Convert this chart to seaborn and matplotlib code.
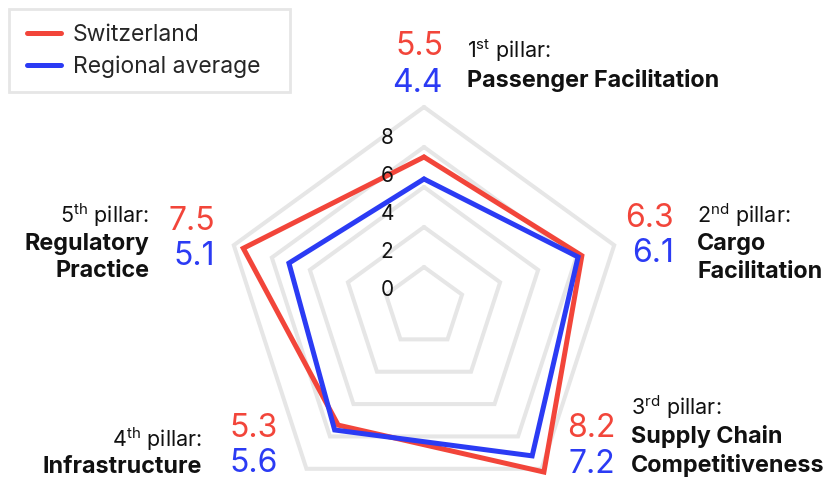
import numpy as np
import pandas as pd
import matplotlib
matplotlib.use("Agg")
import matplotlib.pyplot as plt
from matplotlib.patches import Rectangle
import seaborn as sns

# --- Data ---
pillars = ["1st", "2nd", "3rd", "4th", "5th"]
pillar_names = ["Passenger Facilitation", "Cargo\nFacilitation",
                "Supply Chain\nCompetitiveness", "Infrastructure",
                "Regulatory\nPractice"]
switzerland = [5.5, 6.3, 8.2, 5.3, 7.5]
regional_avg = [4.4, 6.1, 7.2, 5.6, 5.1]
series_names = ["Switzerland", "Regional average"]
ring_values = [0, 2, 4, 6, 8]

RED = "#f2453a"
BLUE = "#2b3bf4"
GRID = "#e6e6e6"

sns.set_style("white")
plt.rcParams["font.family"] = ["Inter", "DejaVu Sans"]
plt.rcParams["mathtext.fontset"] = "custom"
plt.rcParams["mathtext.rm"] = "Inter"
plt.rcParams["mathtext.bf"] = "Inter:bold"
plt.rcParams["mathtext.it"] = "Inter:italic"

W, H = 838, 479
fig = plt.figure(figsize=(W / 100, H / 100), dpi=100)


def px(x, y):
    return x / W, 1 - y / H


# polar axes centred at (424, 307) px, radius 220 px for r in [-2, 9]
cx, cy, R = 424, 307, 220
ax = fig.add_axes([(cx - R) / W, (H - cy - R) / H, 2 * R / W, 2 * R / H],
                  projection="polar")
ax.set_theta_offset(np.pi / 2)
ax.set_theta_direction(-1)
ax.set_ylim(-2, 9)
ax.grid(False)
ax.set_xticks([])
ax.set_yticks([])
ax.spines["polar"].set_visible(False)
ax.patch.set_alpha(0)

n = len(pillars)
angles = np.linspace(0, 2 * np.pi, n, endpoint=False)
closed = np.append(angles, 2 * np.pi)

# pentagon grid rings
for v in ring_values:
    ax.plot(closed, [v] * (n + 1), color=GRID, lw=2.9,
            solid_joinstyle="miter", zorder=1)

rows = []
for name, vals in zip(series_names, [switzerland, regional_avg]):
    for t, v in zip(closed, vals + vals[:1]):
        rows.append({"theta": t, "value": v, "series": name})
df = pd.DataFrame(rows)

sns.lineplot(data=df, x="theta", y="value", hue="series", sort=False,
             estimator=None, palette=[RED, BLUE], lw=3.6,
             solid_joinstyle="miter", ax=ax, zorder=3)
ax.set_xlabel("")
ax.set_ylabel("")

# legend (frame drawn separately so padding matches)
old = ax.get_legend()
handles = old.legend_handles
labels = [t.get_text() for t in old.texts]
old.remove()
leg = fig.legend(handles, labels, loc="center left",
                 bbox_to_anchor=px(27, 51), bbox_transform=fig.transFigure,
                 fontsize=16.5, frameon=False, handlelength=1.5,
                 handletextpad=0.5, labelspacing=0.38, borderpad=0,
                 borderaxespad=0)
for h in leg.legend_handles:
    h.set_linewidth(3.6)
fig.patches.append(Rectangle(px(9, 92), 281 / W, 83 / H,
                             transform=fig.transFigure, fill=False,
                             ec=GRID, lw=2))

# radial tick labels
for v in ring_values:
    fig.text(*px(387, 290 - 19 * v), str(v), fontsize=15, ha="center",
             va="center", color="#111111")

# pillar annotations: number x / label x and baselines in px
layout = [
    dict(nx=443, lx=467, lha="left", lb=[58, 87], nb=[55, 92]),
    dict(nx=674, lx=697, lha="left", lb=[223, 250, 278], nb=[227, 262]),
    dict(nx=615, lx=631, lha="left", lb=[415, 443, 472], nb=[437, 473]),
    dict(nx=278, lx=202, lha="right", lb=[447, 473], nb=[437, 472]),
    dict(nx=215, lx=149, lha="right", lb=[223, 250, 277], nb=[230, 265]),
]

for i, lay in enumerate(layout):
    sup = pillars[i][1:]
    head = f"{pillars[i][0]}$^{{\\mathrm{{{sup}}}}}$ pillar:"
    fig.text(*px(lay["lx"], lay["lb"][0]), head, fontsize=15.5,
             ha=lay["lha"], va="baseline", color="#111111")
    for line, yb in zip(pillar_names[i].split("\n"), lay["lb"][1:]):
        fig.text(*px(lay["lx"], yb), line, fontsize=16.8, fontweight="bold",
                 ha=lay["lha"], va="baseline", color="#111111")
    fig.text(*px(lay["nx"], lay["nb"][0]), f"{switzerland[i]:.1f}",
             fontsize=23, ha="right", va="baseline", color=RED)
    fig.text(*px(lay["nx"], lay["nb"][1]), f"{regional_avg[i]:.1f}",
             fontsize=23, ha="right", va="baseline", color=BLUE)

fig.savefig("out.png", dpi=100)
